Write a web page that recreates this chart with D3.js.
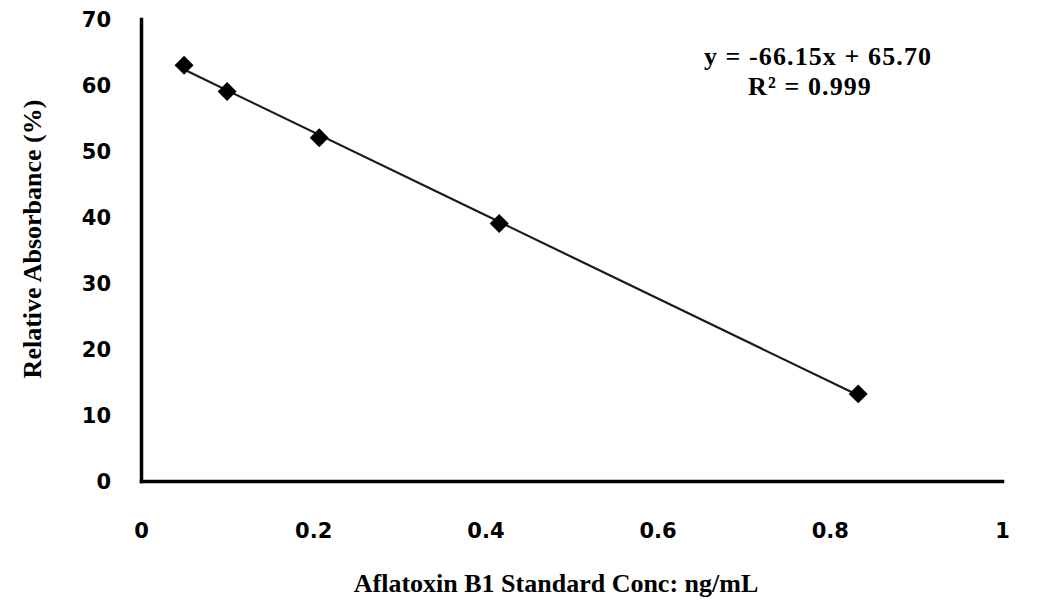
<!DOCTYPE html>
<html>
<head>
<meta charset="utf-8">
<script src="https://cdn.jsdelivr.net/npm/d3@7"></script>
<style>
  html, body { margin: 0; padding: 0; background: #ffffff; }
</style>
</head>
<body>
<div id="chart"></div>
<script>

// data
const concentration = [0.05, 0.10, 0.207, 0.416, 0.833];
const absorbance = [63, 59, 52, 39, 13.2];
const xTickValues = [0, 0.2, 0.4, 0.6, 0.8, 1];
const yTickValues = [0, 10, 20, 30, 40, 50, 60, 70];
const equationLines = ["y = -66.15x + 65.70", "R\u00B2 = 0.999"];


const width = 1059;
const height = 605;
const tickFont = "'DejaVu Sans', sans-serif";
const titleFont = "'Liberation Serif', 'Times New Roman', serif";

const svg = d3.select("#chart").append("svg")
  .attr("width", width)
  .attr("height", height);

const x = d3.scaleLinear().domain([0, 1]).range([141, 1002]);
const y = d3.scaleLinear().domain([0, 70]).range([481, 19]);

const points = concentration.map(function (c, i) {
  return { x: c, y: absorbance[i] };
});


// x axis
const xAxis = svg.append("g")
  .attr("transform", "translate(0," + y(0) + ")")
  .call(d3.axisBottom(x).tickValues(xTickValues).tickSize(0).tickPadding(42)
    .tickFormat(d3.format("")));

// y axis
const yAxis = svg.append("g")
  .attr("transform", "translate(" + x(0) + ",0)")
  .call(d3.axisLeft(y).tickValues(yTickValues).tickSize(0).tickPadding(30));

[xAxis, yAxis].forEach(function (ax) {
  ax.select(".domain")
    .attr("stroke", "#000")
    .attr("stroke-width", 3.5)
    .attr("stroke-linecap", "square");
  ax.selectAll("text")
    .attr("font-family", tickFont)
    .attr("font-weight", "bold")
    .attr("font-size", 21)
    .attr("fill", "#000");
});
yAxis.selectAll("text").attr("dy", "0.36em");


// least squares trendline over the points
const mx = d3.mean(points, d => d.x);
const my = d3.mean(points, d => d.y);
const slope = d3.sum(points, d => (d.x - mx) * (d.y - my)) /
              d3.sum(points, d => (d.x - mx) * (d.x - mx));
const intercept = my - slope * mx;
const xExtent = d3.extent(points, d => d.x);

svg.append("line")
  .attr("x1", x(xExtent[0]))
  .attr("y1", y(intercept + slope * xExtent[0]))
  .attr("x2", x(xExtent[1]))
  .attr("y2", y(intercept + slope * xExtent[1]))
  .attr("stroke", "#1a1a1a")
  .attr("stroke-width", 2.2);


// diamond markers
const diamond = d3.symbol().type(d3.symbolSquare).size(180);

svg.selectAll("path.marker")
  .data(points)
  .enter()
  .append("path")
  .attr("class", "marker")
  .attr("d", diamond)
  .attr("transform", function (d) {
    return "translate(" + x(d.x) + "," + y(d.y) + ") rotate(45)";
  })
  .attr("fill", "#000");


// equation
const eqX = [818, 810];

svg.selectAll("text.eq")
  .data(equationLines)
  .enter()
  .append("text")
  .attr("class", "eq")
  .attr("x", function (d, i) { return eqX[i]; })
  .attr("y", function (d, i) { return 65 + i * 30; })
  .attr("text-anchor", "middle")
  .attr("font-family", titleFont)
  .attr("font-weight", "bold")
  .attr("font-size", 26)
  .attr("letter-spacing", 1.1)
  .attr("fill", "#000")
  .text(function (d) { return d; });


// axis titles
svg.append("text")
  .attr("x", 556)
  .attr("y", 592)
  .attr("text-anchor", "middle")
  .attr("font-family", titleFont)
  .attr("font-weight", "bold")
  .attr("font-size", 26)
  .attr("fill", "#000")
  .text("Aflatoxin B1 Standard Conc: ng/mL");

svg.append("text")
  .attr("transform", "translate(41,239) rotate(-90)")
  .attr("text-anchor", "middle")
  .attr("font-family", titleFont)
  .attr("font-weight", "bold")
  .attr("font-size", 26)
  .attr("fill", "#000")
  .text("Relative Absorbance (%)");

</script>
</body>
</html>
